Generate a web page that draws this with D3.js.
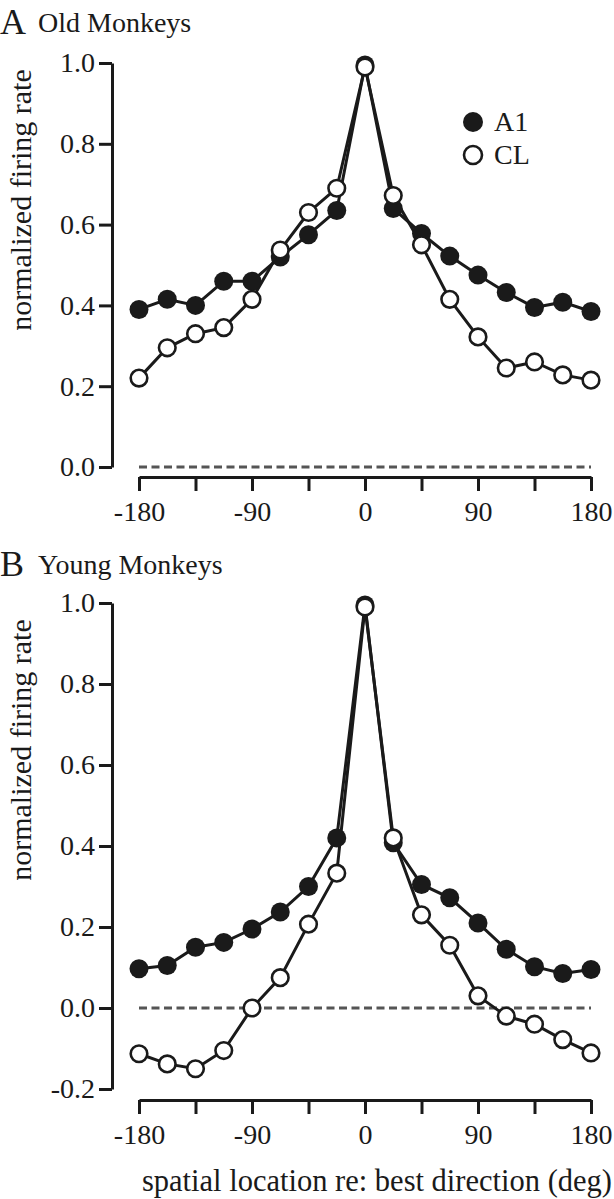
<!DOCTYPE html>
<html>
<head>
<meta charset="utf-8">
<script src="https://cdn.jsdelivr.net/npm/d3@7"></script>
<style>
  html, body { margin: 0; padding: 0; background: #fff; }
  svg { display: block; }
  svg text { font-family: "Liberation Serif", "Times New Roman", serif !important; fill: #1a1a1a; }
</style>
</head>
<body>
<svg id="chart" width="614" height="1199"></svg>
<script>
// ---- data ----
const angles = [-180, -157.5, -135, -112.5, -90, -67.5, -45, -22.5, 0, 22.5, 45, 67.5, 90, 112.5, 135, 157.5, 180];
const oldA1 = [0.39, 0.415, 0.40, 0.46, 0.46, 0.52, 0.575, 0.635, 0.995, 0.64, 0.578, 0.522, 0.475, 0.432, 0.395, 0.408, 0.385];
const oldCL = [0.22, 0.295, 0.33, 0.345, 0.415, 0.537, 0.63, 0.69, 0.99, 0.672, 0.55, 0.415, 0.322, 0.245, 0.26, 0.228, 0.215];
const youngA1 = [0.097, 0.105, 0.15, 0.162, 0.195, 0.237, 0.30, 0.42, 0.995, 0.408, 0.305, 0.272, 0.21, 0.145, 0.102, 0.085, 0.095];
const youngCL = [-0.113, -0.138, -0.15, -0.105, 0.0, 0.075, 0.207, 0.333, 0.99, 0.42, 0.23, 0.155, 0.03, -0.02, -0.04, -0.078, -0.111];
const xTicks = [-180, -135, -90, -45, 0, 45, 90, 135, 180];
const xTickLabels = [-180, -90, 0, 90, 180];
const yTicksA = [0, 0.2, 0.4, 0.6, 0.8, 1.0];
const yTicksB = [-0.2, 0, 0.2, 0.4, 0.6, 0.8, 1.0];
const seriesNames = ["A1", "CL"];

const svg = d3.select("#chart");
const dark = "#1a1a1a";
const serif = "'Liberation Serif', 'Times New Roman', serif";
const fontSize = 28;

const x = d3.scaleLinear().domain([-180, 180]).range([139, 591]);

function fmtY(d) { return (d < 0 ? "-" : "") + Math.abs(d).toFixed(1); }
function fmtX(d) { return xTickLabels.includes(d) ? String(d) : ""; }

function panel(opts) {
  const { y, yTicks, a1, cl, xAxisY, letter, title, titleY, ylabelY } = opts;
  const g = svg.append("g");

  // y axis
  const yAxis = d3.axisLeft(y).tickValues(yTicks).tickFormat(fmtY).tickSize(13).tickSizeOuter(0);
  const ya = g.append("g").attr("transform", "translate(112,0)").call(yAxis)
    .attr("font-family", null).style("font-family", serif);
  ya.select(".domain").attr("stroke", dark).attr("stroke-width", 3);
  ya.selectAll(".tick line").attr("stroke", dark).attr("stroke-width", 3);
  ya.selectAll(".tick text").attr("x", -17).attr("fill", dark)
    .style("font-size", fontSize + "px").style("font-family", serif);

  // x axis
  const xAxis = d3.axisBottom(x).tickValues(xTicks).tickFormat(fmtX)
    .tickSize(14).tickSizeOuter(0);
  const xa = g.append("g").attr("transform", `translate(0,${xAxisY})`).call(xAxis)
    .attr("font-family", null).style("font-family", serif);
  xa.select(".domain").attr("stroke", dark).attr("stroke-width", 3);
  xa.selectAll(".tick line").attr("stroke", dark).attr("stroke-width", 3);
  xa.selectAll(".tick text").attr("y", 24).attr("fill", dark)
    .style("font-size", fontSize + "px").style("font-family", serif);

  // zero dashed line
  g.append("line")
    .attr("x1", x(-180)).attr("x2", x(180))
    .attr("y1", y(0)).attr("y2", y(0))
    .attr("stroke", "#555").attr("stroke-width", 3)
    .attr("stroke-dasharray", "8,4.5");

  const line = d3.line().x((d, i) => x(angles[i])).y(d => y(d));

  g.append("path").datum(a1).attr("d", line)
    .attr("fill", "none").attr("stroke", dark).attr("stroke-width", 3);
  g.append("path").datum(cl).attr("d", line)
    .attr("fill", "none").attr("stroke", dark).attr("stroke-width", 3);

  g.selectAll(".a1").data(a1).enter().append("circle")
    .attr("cx", (d, i) => x(angles[i])).attr("cy", d => y(d)).attr("r", 9.5)
    .attr("fill", dark);
  g.selectAll(".cl").data(cl).enter().append("circle")
    .attr("cx", (d, i) => x(angles[i])).attr("cy", d => y(d)).attr("r", 8.3)
    .attr("fill", "#fff").attr("stroke", dark).attr("stroke-width", 2.6);

  // title
  g.append("text").attr("x", 0).attr("y", titleY).style("font-size", "36px").text(letter);
  g.append("text").attr("x", 38).attr("y", titleY - 2).style("font-size", "28px").text(title);

  // y label
  g.append("text")
    .attr("transform", `translate(31,${ylabelY}) rotate(-90)`)
    .attr("text-anchor", "middle").style("font-size", "30px")
    .text("normalized firing rate");
  return g;
}

const yA = d3.scaleLinear().domain([0, 1]).range([467, 63]);
panel({ y: yA, yTicks: yTicksA, a1: oldA1, cl: oldCL, xAxisY: 477,
        letter: "A", title: "Old Monkeys", titleY: 34, ylabelY: 200 });

const yB = d3.scaleLinear().domain([-0.2, 1]).range([1089, 603]);
panel({ y: yB, yTicks: yTicksB, a1: youngA1, cl: youngCL, xAxisY: 1100,
        letter: "B", title: "Young Monkeys", titleY: 576, ylabelY: 750 });

// legend
const leg = svg.append("g");
seriesNames.forEach((name, i) => {
  const cy = 122 + i * 33;
  const c = leg.append("circle").attr("cx", 473).attr("cy", cy).attr("r", 10);
  if (i === 0) c.attr("fill", dark);
  else c.attr("fill", "#fff").attr("stroke", dark).attr("stroke-width", 2.6).attr("r", 9);
  leg.append("text").attr("x", 494).attr("y", cy + 9).style("font-size", "28px").text(name);
});

// x label
svg.append("text").attr("x", 612).attr("y", 1191).attr("text-anchor", "end")
  .style("font-size", "30.5px").text("spatial location re: best direction (deg)");
</script>
</body>
</html>
